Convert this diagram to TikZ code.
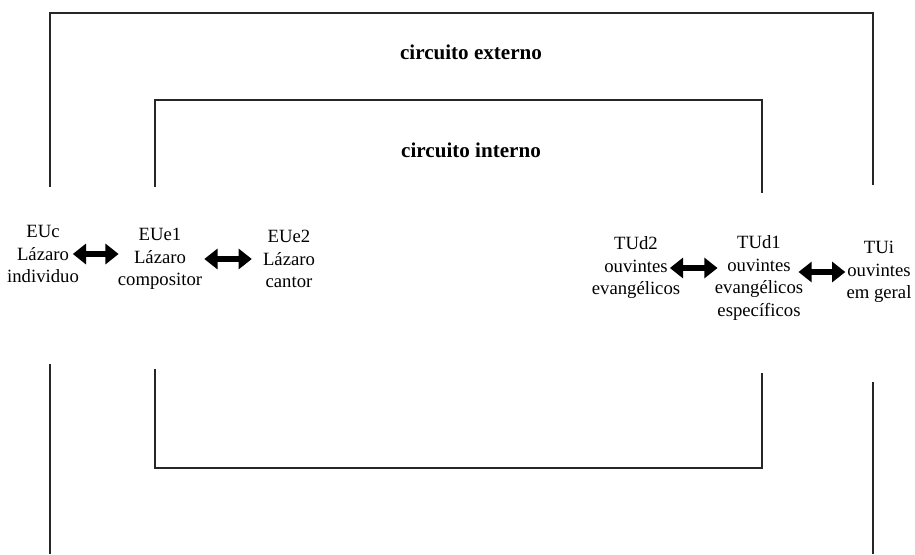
\documentclass[tikz,border=0pt]{standalone}
\usepackage{fontspec}
\setmainfont{Liberation Serif}
\usetikzlibrary{arrows.meta, positioning}

\tikzset{
  frame/.style={line width=0.8pt, black!85},
  actor/.style={align=center, inner sep=0pt, font=\fontsize{13.3}{16}\selectfont},
  circ/.style={inner sep=0pt, font=\fontsize{15}{18}\selectfont\bfseries},
  dbl/.style={line width=0.17cm,
    {Triangle[length=0.33cm,width=0.5cm]}-{Triangle[length=0.33cm,width=0.5cm]}}
}

\begin{document}
\begin{tikzpicture}[x=0.025cm, y=-0.025cm]
\useasboundingbox (0,0) rectangle (915,554);

% outer circuit
\draw[frame] (50,187) -- (50,13) -- (873,13) -- (873,185);
\draw[frame] (50,364) -- (50,554);
\draw[frame] (873,382) -- (873,554);
\node[circ] (ext) at (471,52) {circuito externo};

% inner circuit
\draw[frame] (155,187) -- (155,100) -- (762,100) -- (762,193);
\draw[frame] (155,369) -- (155,468) -- (762,468) -- (762,373);
\node[circ] (int) at (471,150) {circuito interno};

% enunciators
\node[actor] (euc)  at (43,254)  {EUc\\Lázaro\\individuo};
\node[actor] (eue1) at (160,259) {EUe1\\Lázaro\\compositor};
\node[actor] (eue2) at (289,259) {EUe2\\Lázaro\\cantor};

% addressees
\node[actor] (tud2) at (636,268) {TUd2\\ouvintes\\evangélicos};
\node[actor] (tud1) at (759,278) {TUd1\\ouvintes\\evangélicos\\específicos};
\node[actor] (tui)  at (879,272) {TUi\\ouvintes\\em geral};

% links
\draw[dbl, shorten <=-4.5pt, shorten >=-0.7pt] (euc.east) -- (euc.east -| eue1.west);
\draw[dbl, shorten <=1.4pt, shorten >=7.8pt] (eue1.east) -- (eue1.east -| eue2.west);
\draw[dbl, shorten <=-7.5pt, shorten >=-2.1pt] (tud2.east) -- (tud2.east -| tud1.west);
\draw[dbl, shorten <=-3.5pt, shorten >=0.7pt] (tui.west -| tud1.east) -- (tui.west);

\end{tikzpicture}
\end{document}
